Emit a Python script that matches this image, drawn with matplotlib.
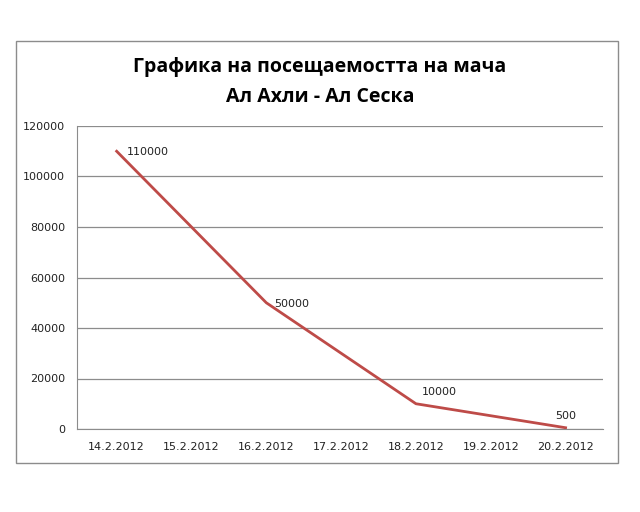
import matplotlib
matplotlib.use("Agg")
import matplotlib.pyplot as plt
from matplotlib.patches import Rectangle

dates = ["14.2.2012", "15.2.2012", "16.2.2012", "17.2.2012",
         "18.2.2012", "19.2.2012", "20.2.2012"]
point_idx = [0, 2, 4, 6]
attendance = [110000, 50000, 10000, 500]
yticks = [0, 20000, 40000, 60000, 80000, 100000, 120000]

# label placement per point (pixels), like Excel put them
label_off = [(10, -1, "left"), (8, -1, "left"), (6, 12, "left"), (0, 12, "center")]

fig = plt.figure(figsize=(6.4, 5.12), dpi=100)
W, H = 640, 512
# chart border (Excel-style chart area)
fig.patches.append(Rectangle((16 / W, 1 - 463 / H), 602 / W, 422 / H,
                             transform=fig.transFigure, fill=False,
                             edgecolor="#8c8c8c", lw=1.0))

ax = fig.add_axes([77 / W, 1 - 429 / H, 526 / W, 303 / H])
ax.plot(point_idx, attendance, color="#BE4B48", lw=2.0,
        solid_joinstyle="round", zorder=3)
for x, v, (dx, dy, ha) in zip(point_idx, attendance, label_off):
    ax.annotate(f"{v}", (x, v), textcoords="offset pixels", xytext=(dx, dy),
                fontsize=8, color="#222222", va="center", ha=ha)

ax.set_xlim(-0.53, 6.5)
ax.set_ylim(0, 120000)
ax.set_yticks(yticks)
ax.set_yticklabels([str(t) for t in yticks])
ax.set_xticks(range(len(dates)))
ax.set_xticklabels(dates)
ax.tick_params(axis="both", length=0, labelsize=8, colors="#222222")
ax.tick_params(axis="x", pad=9)
ax.tick_params(axis="y", pad=8.5)
ax.grid(axis="y", color="#8c8c8c", lw=0.9)
ax.set_axisbelow(True)
for s in ["top", "right"]:
    ax.spines[s].set_visible(False)
ax.spines["left"].set_color("#8c8c8c")
ax.spines["bottom"].set_color("#8c8c8c")

fig.text(0.5, 1 - 67 / H, "Графика на посещаемостта на мача",
         ha="center", va="center", fontsize=14, fontweight="bold",
         family=["Open Sans", "DejaVu Sans"])
fig.text(0.5, 1 - 97 / H, "Ал Ахли - Ал Сеска",
         ha="center", va="center", fontsize=14, fontweight="bold",
         family=["Open Sans", "DejaVu Sans"])

fig.savefig("out.png", dpi=100)
